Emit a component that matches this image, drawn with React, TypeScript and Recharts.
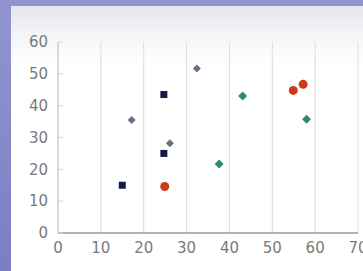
import React from "react";
import {
  ScatterChart,
  Scatter,
  XAxis,
  YAxis,
  CartesianGrid,
} from "recharts";

const xTicks = [0, 10, 20, 30, 40, 50, 60, 70];
const yTicks = [0, 10, 20, 30, 40, 50, 60];

const navyPoints = [
  { x: 15, y: 15 },
  { x: 24.7, y: 43.5 },
  { x: 24.7, y: 25 },
];
const slatePoints = [
  { x: 17.2, y: 35.5 },
  { x: 26.1, y: 28.2 },
  { x: 32.4, y: 51.7 },
];
const tealPoints = [
  { x: 37.6, y: 21.7 },
  { x: 43.1, y: 43 },
  { x: 58, y: 35.7 },
];
const orangePoints = [
  { x: 24.9, y: 14.6 },
  { x: 54.9, y: 44.8 },
  { x: 57.2, y: 46.7 },
];

const font = "DejaVu Sans, sans-serif";

const Square = (props: any) => {
  const { cx, cy } = props;
  return <rect x={cx - 3.5} y={cy - 3.5} width={7} height={7} fill="#141c45" />;
};

const makeDiamond = (color: string, r: number) => (props: any) => {
  const { cx, cy } = props;
  return (
    <polygon
      points={`${cx},${cy - r} ${cx + r},${cy} ${cx},${cy + r} ${cx - r},${cy}`}
      fill={color}
    />
  );
};

const Dot = (props: any) => {
  const { cx, cy } = props;
  return <circle cx={cx} cy={cy} r={4.5} fill="#cc3b1c" />;
};

// y labels plus the short tick marks that sit inside the plot
const YTick = (props: any) => {
  const { x, y, payload } = props;
  return (
    <g>
      <line x1={x + 10} x2={x + 15} y1={y} y2={y} stroke="#d2d3d9" />
      <text x={x} y={y} dy="0.35em" textAnchor="end" fill="#7a7a7a" fontSize={15} fontFamily={font}>
        {payload.value}
      </text>
    </g>
  );
};

const xTickStyle = { fill: "#7a7a7a", fontSize: 15, fontFamily: font };

export default function App() {
  return (
    <div
      style={{
        position: "absolute",
        left: 0,
        top: 0,
        width: 363,
        height: 271,
        background: "linear-gradient(#9195cf, #7a7fc4)",
      }}
    >
      <div
        style={{
          position: "absolute",
          left: 11,
          top: 6,
          right: 0,
          bottom: 0,
          background: "linear-gradient(#e6e7eb 0px, #f6f7f8 35px, #ffffff 60px)",
        }}
      />
      <div style={{ position: "absolute", left: 0, top: 0 }}>
        <ScatterChart
          width={363}
          height={271}
          margin={{ top: 42, right: 5, left: 0, bottom: 0 }}
        >
          <CartesianGrid horizontal={false} stroke="#dcdde2" />
          <XAxis
            type="number"
            dataKey="x"
            domain={[0, 70]}
            ticks={xTicks}
            interval={0}
            height={38}
            tickLine={false}
            tickMargin={3}
            axisLine={{ stroke: "#9a9aa4", strokeWidth: 1.5 }}
            tick={xTickStyle}
          />
          <YAxis
            type="number"
            dataKey="y"
            domain={[0, 60]}
            ticks={yTicks}
            interval={0}
            width={58}
            tickLine={false}
            tickMargin={4}
            axisLine={{ stroke: "#c4c5cc" }}
            tick={YTick}
          />
          <Scatter data={navyPoints} shape={Square} isAnimationActive={false} />
          <Scatter data={slatePoints} shape={makeDiamond("#6e6c86", 4)} isAnimationActive={false} />
          <Scatter data={tealPoints} shape={makeDiamond("#2e8a6e", 4.5)} isAnimationActive={false} />
          <Scatter data={orangePoints} shape={Dot} isAnimationActive={false} />
        </ScatterChart>
      </div>
    </div>
  );
}
